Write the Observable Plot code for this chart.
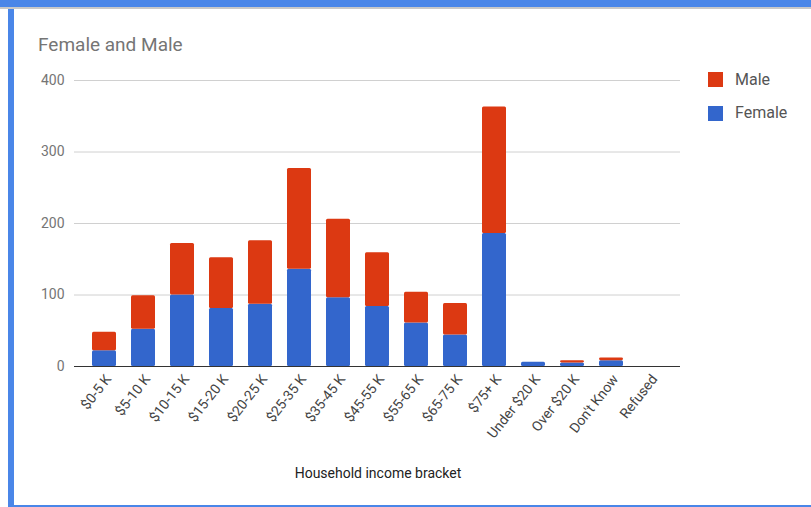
<!DOCTYPE html>
<html>
<head>
<meta charset="utf-8">
<script src="https://cdn.jsdelivr.net/npm/d3@7"></script>
<script src="https://cdn.jsdelivr.net/npm/@observablehq/plot@0.6"></script>
<style>
  html, body { margin: 0; padding: 0; background: #fff; }
  body { width: 811px; height: 507px; position: relative; overflow: hidden; font-family: Roboto, "Noto Sans", sans-serif; }
  .abs { position: absolute; }
  #chart { position: absolute; left: 0; top: 60px; }
  .leg { position: absolute; font-size: 16px; color: #555; line-height: 16px; }
  .sw { position: absolute; width: 15px; height: 15px; }
</style>
</head>
<body>
<div class="abs" style="left:0;top:0;width:811px;height:7px;background:#4a86e8;"></div>
<div class="abs" style="left:0;top:7px;width:811px;height:2px;background:#c8c8c8;"></div>
<div class="abs" style="left:8px;top:9px;width:6px;height:498px;background:#4a86e8;"></div>
<div class="abs" style="left:8px;top:505px;width:803px;height:2px;background:#4a86e8;"></div>
<div class="abs" style="left:38px;top:33px;font-size:19px;color:#757575;">Female and Male</div>
<div id="chart"></div>
<div class="sw" style="left:708px;top:72px;background:#dc3912;"></div>
<div class="leg" style="left:735px;top:72px;">Male</div>
<div class="sw" style="left:708px;top:106px;background:#3366cc;"></div>
<div class="leg" style="left:735px;top:105px;">Female</div>
<div class="abs" style="left:0;width:756px;top:465px;text-align:center;font-size:14px;color:#222;">Household income bracket</div>
<script>
const categories = ["$0-5 K","$5-10 K","$10-15 K","$15-20 K","$20-25 K","$25-35 K","$35-45 K","$45-55 K","$55-65 K","$65-75 K","$75+ K","Under $20 K","Over $20 K","Don't Know","Refused"];
const female = [22, 52, 100, 81, 87, 136, 96, 84, 61, 44, 186, 6, 5, 8, 0];
const male   = [26, 47, 72, 71, 89, 141, 110, 75, 43, 44, 177, 0, 3, 4, 0];
const seriesNames = ["Female", "Male"];
const seriesColors = ["#3366cc", "#dc3912"];
const yTicks = [0, 100, 200, 300, 400];

const rows = [];
categories.forEach((c, i) => rows.push({cat: c, series: "Female", value: female[i]}));
categories.forEach((c, i) => rows.push({cat: c, series: "Male", value: male[i]}));

const chart = Plot.plot({
  width: 811,
  height: 420,
  marginLeft: 74,
  marginRight: 131,
  marginTop: 20,
  marginBottom: 114,
  style: {fontFamily: "Roboto, 'Noto Sans', sans-serif", background: "transparent"},
  x: {type: "band", domain: categories, padding: 0.373, label: null},
  y: {domain: [0, 400], ticks: yTicks, label: null},
  color: {domain: seriesNames, range: seriesColors},
  marks: [
    Plot.ruleY(yTicks.filter(d => d > 0), {stroke: "#d0d0d0", strokeWidth: 1}),
    Plot.barY(rows, {x: "cat", y: "value", fill: "series", order: null, rx: 1.5}),
    Plot.ruleY([0], {stroke: "#333", strokeWidth: 1}),
    Plot.axisY({ticks: yTicks, tickSize: 0, tickPadding: 10, fontSize: 14, color: "#757575", label: null}),
    Plot.axisX({tickSize: 0, tickPadding: 10, tickRotate: -52, fontSize: 14, dx: 4, color: "#444", label: null})
  ]
});
document.getElementById("chart").appendChild(chart);
</script>
</body>
</html>
